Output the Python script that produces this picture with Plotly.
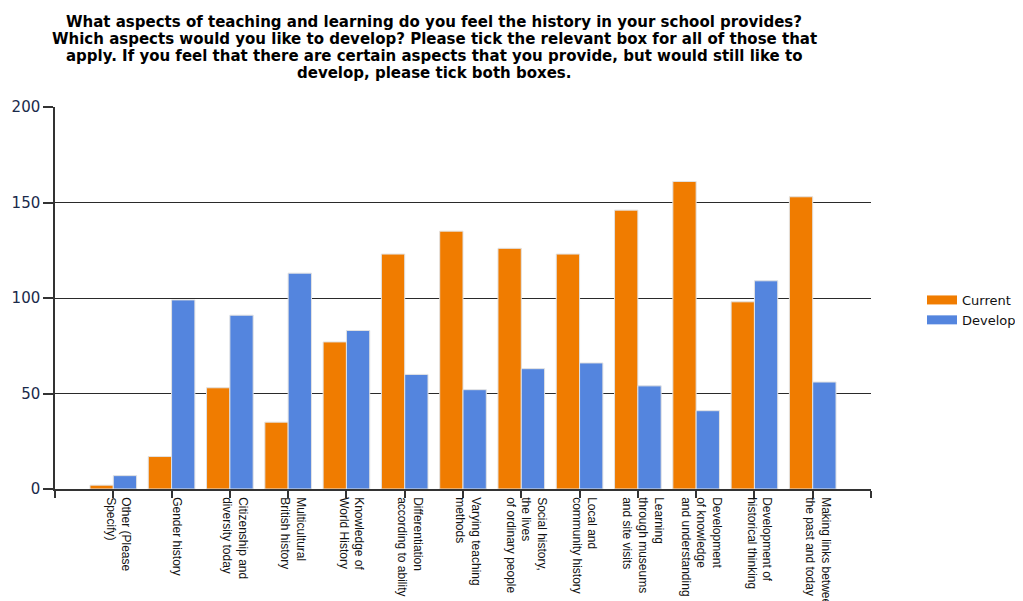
import plotly.graph_objects as go

categories = [
    "Other (Please<br>Specify)",
    "Gender history",
    "Citizenship and<br>diversity today",
    "Multicultural<br>British history",
    "Knowledge of<br>World History",
    "Differentiation<br>according to ability",
    "Varying teaching<br>methods",
    "Social history,<br>the lives<br>of ordinary people",
    "Local and<br>community history",
    "Learning<br>through museums<br>and site visits",
    "Development<br>of knowledge<br>and understanding",
    "Development of<br>historical thinking",
    "Making links between<br>the past and today",
]
current = [2, 17, 53, 35, 77, 123, 135, 126, 123, 146, 161, 98, 153]
develop = [7, 99, 91, 113, 83, 60, 52, 63, 66, 54, 41, 109, 56]
y_ticks = [0, 50, 100, 150, 200]

title_lines = [
    "What aspects of teaching and learning do you feel the history in your school provides?",
    "Which aspects would you like to develop? Please tick the relevant box for all of those that",
    "apply. If you feel that there are certain aspects that you provide, but would still like to",
    "develop, please tick both boxes.",
]

series_names = ["Current", "Develop"]
series_colors = ["#f07c00", "#5485de"]

positions = list(range(1, len(categories) + 1))
tick_positions = [0] + positions + [len(categories) + 1]
tick_labels = [""] + categories + [""]

# page geometry: the page body adds an 8px offset
OFF = 8
W, H = 1023 - OFF, 601 - OFF
ML, MT = 55 - OFF, 107 - OFF
MR = W - (871 - OFF)
MB = H - (489 - OFF)
plot_w = W - ML - MR
plot_h = H - MT - MB


def px_x(x_abs):
    return (x_abs - OFF - ML) / plot_w


def px_y(y_abs):
    return (H - MB - (y_abs - OFF)) / plot_h


fig = go.Figure()
for name, vals, col in zip(series_names, [current, develop], series_colors):
    fig.add_trace(go.Bar(x=positions, y=vals, name=name, showlegend=False,
                         marker=dict(color=col, line=dict(color="#e2e2e2", width=1))))
# legend entries drawn as wide swatches
for name, col in zip(series_names, series_colors):
    fig.add_trace(go.Scatter(x=[None], y=[None], mode="lines", name=name,
                             line=dict(color=col, width=9)))

# title as separate lines for tight line spacing
for i, line in enumerate(title_lines):
    fig.add_annotation(text=line, xref="paper", yref="paper",
                       x=px_x(434), y=px_y(22 + 17 * i),
                       xanchor="center", yanchor="middle", showarrow=False,
                       font=dict(family="DejaVu Sans, sans-serif", size=15,
                                 color="#000", weight="bold"))

fig.update_layout(
    width=W, height=H,
    paper_bgcolor="white", plot_bgcolor="white",
    margin=dict(l=ML, r=MR, t=MT, b=MB, autoexpand=False),
    barmode="group", bargap=0.2, bargroupgap=0,
    font=dict(family="DejaVu Sans, sans-serif", color="#111"),
    legend=dict(x=px_x(922), xanchor="left", y=px_y(310),
                yanchor="middle", font=dict(size=13, color="#111"), bgcolor="rgba(0,0,0,0)",
                itemwidth=30, tracegroupgap=2),
    showlegend=True,
)
fig.update_xaxes(
    range=[0, len(categories) + 1], tickmode="array", tickvals=tick_positions, ticktext=tick_labels,
    tickangle=90, ticks="outside", ticklen=7, tickcolor="#333", tickwidth=1.5,
    showline=True, linecolor="#333", linewidth=1.5, showgrid=False, zeroline=False,
    automargin=False, ticklabelstandoff=-3, ticklabelshift=5,
    tickfont=dict(family="Liberation Sans Narrow, Arial Narrow, sans-serif", size=12, color="#111"),
)
fig.update_yaxes(
    range=[0, 200], tickmode="array", tickvals=y_ticks,
    ticks="outside", ticklen=10, tickcolor="#333", tickwidth=1.5,
    showline=True, linecolor="#333", linewidth=1.5,
    showgrid=True, gridcolor="#2a2a2a", gridwidth=1.2, zeroline=False,
    automargin=False,
    tickfont=dict(size=15, color="#1a2a4a"),
)

fig.write_html("out.html")
